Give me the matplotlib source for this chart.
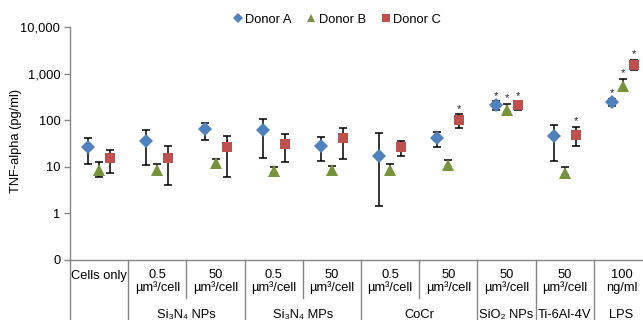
import matplotlib
matplotlib.use("Agg")
import matplotlib.pyplot as plt
import matplotlib.transforms as mtransforms
from matplotlib.lines import Line2D
from matplotlib.ticker import FixedLocator, FixedFormatter, NullLocator

plt.rcParams['font.family'] = ['Liberation Sans', 'DejaVu Sans']

# ---------------- data ----------------
dose_labels = ["Cells only", "0.5\nµm³/cell", "50\nµm³/cell", "0.5\nµm³/cell", "50\nµm³/cell",
               "0.5\nµm³/cell", "50\nµm³/cell", "50\nµm³/cell", "50\nµm³/cell", "100\nng/ml"]
group_labels = ["Si₃N₄ NPs", "Si₃N₄ MPs", "CoCr", "SiO₂ NPs", "Ti-6Al-4V", "LPS"]
group_spans = [(1, 3), (3, 5), (5, 7), (7, 8), (8, 9), (9, 10)]

donor_a = [26.5, 36.2, 63.4, 62.5, 27.9, 17.2, 41.4, 208, 44.9, 241]
donor_a_hi = [40.6, 61.5, 88.4, 107.7, 42.7, 52, 55.7, 253, 77.3, 290]
donor_a_lo = [11.4, 10.7, 37.5, 15.1, 13.5, 1.43, 26.5, 168, 13.0, 198]

donor_b = [8.5, 8.5, 11.8, 8.1, 8.5, 8.5, 10.7, 166, 7.4, 540]
donor_b_hi = [12.8, 11.3, 15.0, 10.0, 10.5, 11.3, 13.8, 226, 9.9, 770]
donor_b_lo = [6.0, 7.5, 10.5, 7.2, 7.5, 7.5, 9.5, 150, 6.6, 460]

donor_c = [15.1, 15.8, 26.0, 31.2, 40.6, 26.5, 102.5, 215, 48.8, 1563]
donor_c_hi = [23.2, 28.3, 45.7, 49.5, 66.6, 35.0, 133, 250, 71.5, 2000]
donor_c_lo = [7.2, 4.04, 6.1, 12.6, 14.9, 17.2, 69, 166, 27.9, 1202]

star_a = [7, 9]
star_b = [7, 9]
star_c = [6, 7, 8, 9]

series_names = ["Donor A", "Donor B", "Donor C"]
y_ticks = [0.1, 1, 10, 100, 1000, 10000]
y_tick_labels = ["0", "1", "10", "100", "1,000", "10,000"]

# ---------------- figure ----------------
FS = 9.3
W, H = 643, 320
fig = plt.figure(figsize=(W / 100, H / 100), dpi=100)
ax_left, ax_right, ax_top, ax_bot = 70, 652, 27, 260
ax = fig.add_axes([ax_left / W, 1 - ax_bot / H, (ax_right - ax_left) / W, (ax_bot - ax_top) / H])

ncat = len(dose_labels)
ax.set_yscale('log')
ax.set_ylim(0.1, 10000)
ax.set_xlim(0, ncat)

colors = ["#4F81BD", "#77933C", "#C0504D"]
markers = ["D", "^", "s"]
msizes = [7.0, 8.5, 7.2]
offset = 11 / 58.2
offsets = [-offset, 0, offset]
vals = [donor_a, donor_b, donor_c]
his = [donor_a_hi, donor_b_hi, donor_c_hi]
los = [donor_a_lo, donor_b_lo, donor_c_lo]
stars = [star_a, star_b, star_c]

for k in range(3):
    xs = [i + 0.5 + offsets[k] for i in range(ncat)]
    v = vals[k]
    yerr = [[v[i] - los[k][i] for i in range(ncat)], [his[k][i] - v[i] for i in range(ncat)]]
    ax.errorbar(xs, v, yerr=yerr, fmt='none', ecolor='black', elinewidth=1.1,
                capsize=3.0, capthick=1.1, zorder=2, clip_on=False)
    ax.plot(xs, v, linestyle='none', marker=markers[k], color=colors[k],
            markersize=msizes[k], markeredgewidth=0, zorder=3, clip_on=False)
    for i in stars[k]:
        ax.annotate("*", (xs[i], his[k][i]), xytext=(0, 0.5), textcoords='offset points',
                    ha='center', va='bottom', fontsize=8, color='#222222')

# y axis
ax.yaxis.set_major_locator(FixedLocator(y_ticks))
ax.yaxis.set_major_formatter(FixedFormatter(y_tick_labels))
ax.yaxis.set_minor_locator(NullLocator())
ax.tick_params(axis='y', which='major', length=4, width=1, color='#868686',
               labelsize=FS, pad=3, direction='out')
ax.set_xticks([])
for s in ['top', 'right']:
    ax.spines[s].set_visible(False)
ax.spines['left'].set_color('#868686')
ax.spines['bottom'].set_color('#868686')
ax.spines['left'].set_linewidth(1)
ax.spines['bottom'].set_linewidth(1)

def fy(py):
    return 1 - py / H

fig.text(16 / W, fy(141), "TNF-alpha (pg/ml)", rotation=90, ha='center', va='center', fontsize=FS)

# category table below axis
tr = mtransforms.blended_transform_factory(ax.transData, fig.transFigure)

long_lines = [0, 1, 3, 5, 7, 8, 9]
short_lines = [2, 4, 6]
for xb in long_lines:
    fig.add_artist(Line2D([xb, xb], [fy(260), fy(320)], transform=tr, color='#868686', lw=1))
for xb in short_lines:
    fig.add_artist(Line2D([xb, xb], [fy(260), fy(298)], transform=tr, color='#868686', lw=1))

lps_x = (621.5 - ax_left) / 58.2
for i, lab in enumerate(dose_labels):
    xc = i + 0.5
    if i == ncat - 1:
        xc = lps_x
    if i == 0:
        fig.text(xc, fy(276), lab, transform=tr, ha='center', va='center', fontsize=FS)
    else:
        top, bot = lab.split("\n")
        fig.text(xc, fy(275.5), top, transform=tr, ha='center', va='center', fontsize=FS)
        fig.text(xc, fy(287.5), bot, transform=tr, ha='center', va='center', fontsize=FS)

for lab, (a, b) in zip(group_labels, group_spans):
    xc = (a + b) / 2
    if lab == "LPS":
        xc = lps_x
    fig.text(xc, fy(315), lab, transform=tr, ha='center', va='center', fontsize=FS)

# legend
handles = [Line2D([], [], linestyle='none', marker=markers[k], color=colors[k],
                  markersize=[5.5, 6, 5.5][k], markeredgewidth=0) for k in range(3)]
fig.legend(handles, series_names, loc='center', bbox_to_anchor=(337 / W, fy(20)),
           ncol=3, frameon=False, fontsize=FS, handlelength=0.7, handletextpad=0.2,
           columnspacing=1.2, borderpad=0)

fig.savefig("out.png", dpi=100)
